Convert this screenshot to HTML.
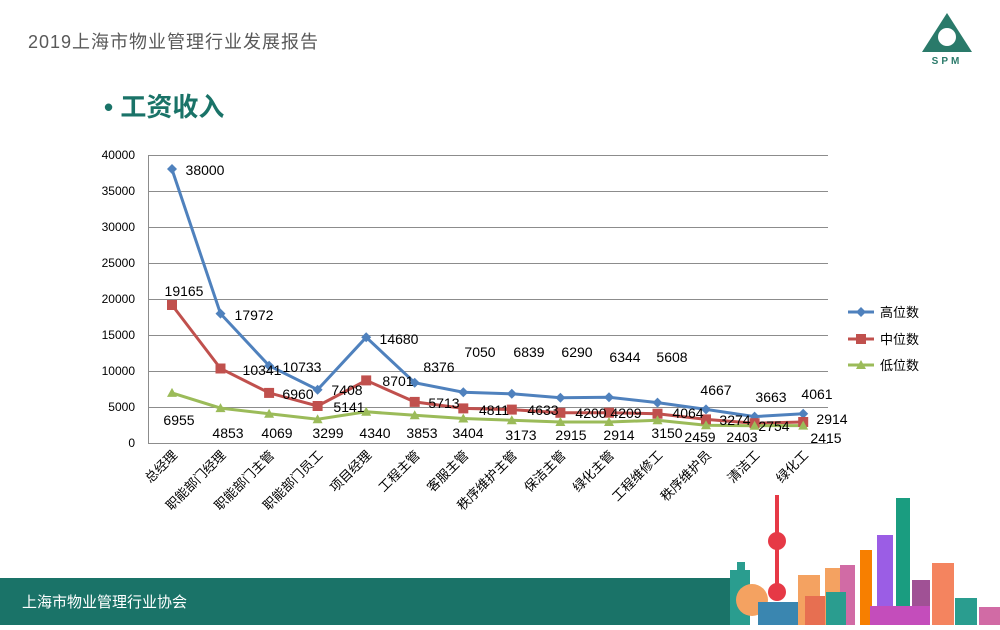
<!DOCTYPE html>
<html><head><meta charset="utf-8"><style>
body{margin:0;width:1000px;height:625px;overflow:hidden;background:#fff;font-family:"Liberation Sans","Noto Sans CJK SC",sans-serif}
</style></head><body>
<svg width="1000" height="625" xmlns="http://www.w3.org/2000/svg" font-family="Liberation Sans, Noto Sans CJK SC, sans-serif">
<text x="28" y="48" font-size="18" fill="#595959" letter-spacing="1">2019上海市物业管理行业发展报告</text>
<g fill="#2a7a6a">
<path d="M947 13 L972 52 L922 52 Z"/>
<circle cx="947" cy="37" r="9" fill="#fff"/>
</g>
<text x="947" y="64" font-size="10" font-weight="bold" fill="#2a7a6a" text-anchor="middle" letter-spacing="3">SPM</text>
<text x="104" y="116" font-size="26" font-weight="bold" fill="#1a7368">• 工资收入</text>
<g stroke="#8c8c8c" stroke-width="1">
<line x1="148" y1="155.5" x2="828" y2="155.5"/><line x1="148" y1="191.5" x2="828" y2="191.5"/>
<line x1="148" y1="227.5" x2="828" y2="227.5"/><line x1="148" y1="263.5" x2="828" y2="263.5"/>
<line x1="148" y1="299.5" x2="828" y2="299.5"/><line x1="148" y1="335.5" x2="828" y2="335.5"/>
<line x1="148" y1="371.5" x2="828" y2="371.5"/><line x1="148" y1="407.5" x2="828" y2="407.5"/>
<line x1="148" y1="443.5" x2="828" y2="443.5"/><line x1="148.5" y1="155" x2="148.5" y2="443"/>
</g>
<g font-size="12" fill="#000" text-anchor="end">
<text x="135" y="159">40000</text><text x="135" y="195">35000</text><text x="135" y="231">30000</text>
<text x="135" y="267">25000</text><text x="135" y="303">20000</text><text x="135" y="339">15000</text>
<text x="135" y="375">10000</text><text x="135" y="411">5000</text><text x="135" y="447">0</text>
</g>
<polyline fill="none" stroke="#4f81bd" stroke-width="3" points="172,169.4 220.5,313.6 269.1,365.7 317.6,389.7 366.2,337.3 414.7,382.7 463.3,392.2 511.8,393.8 560.4,397.7 609,397.3 657.5,402.6 706,409.4 754.6,416.6 803.2,413.8"/>
<polyline fill="none" stroke="#c0504d" stroke-width="3" points="172,305 220.5,368.5 269.1,392.9 317.6,406 366.2,380.4 414.7,401.9 463.3,408.4 511.8,409.6 560.4,412.8 609,412.7 657.5,413.7 706,419.4 754.6,423.2 803.2,422"/>
<polyline fill="none" stroke="#9bbb59" stroke-width="3" points="172,392.9 220.5,408.1 269.1,413.7 317.6,419.2 366.2,411.8 414.7,415.3 463.3,418.5 511.8,420.2 560.4,422 609,422 657.5,420.3 706,425.3 754.6,425.7 803.2,425.6"/>
<g fill="#4f81bd">
<path d="M172 164l5 5-5 5-5-5z"/><path d="M220.5 308.6l5 5-5 5-5-5z"/><path d="M269.1 360.7l5 5-5 5-5-5z"/><path d="M317.6 384.7l5 5-5 5-5-5z"/><path d="M366.2 332.3l5 5-5 5-5-5z"/><path d="M414.7 377.7l5 5-5 5-5-5z"/><path d="M463.3 387.2l5 5-5 5-5-5z"/><path d="M511.8 388.8l5 5-5 5-5-5z"/><path d="M560.4 392.7l5 5-5 5-5-5z"/><path d="M609 392.3l5 5-5 5-5-5z"/><path d="M657.5 397.6l5 5-5 5-5-5z"/><path d="M706 404.4l5 5-5 5-5-5z"/><path d="M754.6 411.6l5 5-5 5-5-5z"/><path d="M803.2 408.8l5 5-5 5-5-5z"/>
</g>
<g fill="#c0504d">
<rect x="167" y="300" width="10" height="10"/><rect x="215.5" y="363.5" width="10" height="10"/><rect x="264.1" y="387.9" width="10" height="10"/><rect x="312.6" y="401" width="10" height="10"/><rect x="361.2" y="375.4" width="10" height="10"/><rect x="409.7" y="396.9" width="10" height="10"/><rect x="458.3" y="403.4" width="10" height="10"/><rect x="506.8" y="404.6" width="10" height="10"/><rect x="555.4" y="407.8" width="10" height="10"/><rect x="604" y="407.7" width="10" height="10"/><rect x="652.5" y="408.7" width="10" height="10"/><rect x="701" y="414.4" width="10" height="10"/><rect x="749.6" y="418.2" width="10" height="10"/><rect x="798.2" y="417" width="10" height="10"/>
</g>
<g fill="#9bbb59">
<path d="M172 387.9l5 9h-10z"/><path d="M220.5 403.1l5 9h-10z"/><path d="M269.1 408.7l5 9h-10z"/><path d="M317.6 414.2l5 9h-10z"/><path d="M366.2 406.8l5 9h-10z"/><path d="M414.7 410.3l5 9h-10z"/><path d="M463.3 413.5l5 9h-10z"/><path d="M511.8 415.2l5 9h-10z"/><path d="M560.4 417l5 9h-10z"/><path d="M609 417l5 9h-10z"/><path d="M657.5 415.3l5 9h-10z"/><path d="M706 420.3l5 9h-10z"/><path d="M754.6 420.7l5 9h-10z"/><path d="M803.2 420.6l5 9h-10z"/>
</g>
<g font-size="14" fill="#000" text-anchor="middle">
<text x="205" y="175">38000</text><text x="254" y="320">17972</text><text x="302" y="372">10733</text><text x="347" y="395">7408</text><text x="399" y="344">14680</text><text x="439" y="372">8376</text><text x="480" y="357">7050</text><text x="529" y="357">6839</text><text x="577" y="357">6290</text><text x="625" y="362">6344</text><text x="672" y="362">5608</text><text x="716" y="395">4667</text><text x="771" y="402">3663</text><text x="817" y="399">4061</text>
<text x="184" y="296">19165</text><text x="262" y="375">10341</text><text x="298" y="399">6960</text><text x="349" y="412">5141</text><text x="398" y="386">8701</text><text x="444" y="408">5713</text><text x="494" y="415">4811</text><text x="543" y="415">4633</text><text x="591" y="418">4200</text><text x="626" y="418">4209</text><text x="688" y="418">4064</text><text x="735" y="425">3274</text><text x="774" y="431">2754</text><text x="832" y="424">2914</text>
<text x="179" y="425">6955</text><text x="228" y="438">4853</text><text x="277" y="438">4069</text><text x="328" y="438">3299</text><text x="375" y="438">4340</text><text x="422" y="438">3853</text><text x="468" y="438">3404</text><text x="521" y="440">3173</text><text x="571" y="440">2915</text><text x="619" y="440">2914</text><text x="667" y="438">3150</text><text x="700" y="442">2459</text><text x="742" y="442">2403</text><text x="826" y="443">2415</text>
</g>
<g font-size="13" fill="#000" text-anchor="end">
<text transform="translate(178,456) rotate(-45)">总经理</text>
<text transform="translate(226.5,456) rotate(-45)">职能部门经理</text>
<text transform="translate(275.1,456) rotate(-45)">职能部门主管</text>
<text transform="translate(323.6,456) rotate(-45)">职能部门员工</text>
<text transform="translate(372.2,456) rotate(-45)">项目经理</text>
<text transform="translate(420.7,456) rotate(-45)">工程主管</text>
<text transform="translate(469.3,456) rotate(-45)">客服主管</text>
<text transform="translate(517.8,456) rotate(-45)">秩序维护主管</text>
<text transform="translate(566.4,456) rotate(-45)">保洁主管</text>
<text transform="translate(615,456) rotate(-45)">绿化主管</text>
<text transform="translate(663.5,456) rotate(-45)">工程维修工</text>
<text transform="translate(712,456) rotate(-45)">秩序维护员</text>
<text transform="translate(760.6,456) rotate(-45)">清洁工</text>
<text transform="translate(809.2,456) rotate(-45)">绿化工</text>
</g>
<line x1="848" y1="312" x2="874" y2="312" stroke="#4f81bd" stroke-width="3"/><path d="M861 307l5 5-5 5-5-5z" fill="#4f81bd"/>
<line x1="848" y1="339" x2="874" y2="339" stroke="#c0504d" stroke-width="3"/><rect x="856" y="334" width="10" height="10" fill="#c0504d"/>
<line x1="848" y1="365" x2="874" y2="365" stroke="#9bbb59" stroke-width="3"/><path d="M861 360l5 9h-10z" fill="#9bbb59"/>
<g font-size="13" fill="#000"><text x="880" y="317">高位数</text><text x="880" y="344">中位数</text><text x="880" y="370">低位数</text></g>
<rect x="0" y="578" width="730" height="47" fill="#1a7368"/>
<text x="22" y="607" font-size="15" fill="#fff">上海市物业管理行业协会</text>
<rect x="730" y="578" width="270" height="47" fill="#fff"/>
<rect x="730" y="570" width="20" height="55" fill="#2a9d8f"/>
<rect x="737" y="562" width="8" height="10" fill="#2a9d8f"/>
<circle cx="752" cy="600" r="16" fill="#f4a261"/>
<rect x="758" y="602" width="50" height="23" fill="#3a86b0"/>
<rect x="775" y="495" width="4" height="100" fill="#e63946"/>
<circle cx="777" cy="541" r="9" fill="#e63946"/>
<circle cx="777" cy="592" r="9" fill="#e63946"/>
<rect x="798" y="575" width="22" height="50" fill="#f4a261"/>
<rect x="805" y="596" width="20" height="29" fill="#e76f51"/>
<rect x="825" y="568" width="15" height="57" fill="#f4a261"/>
<rect x="840" y="565" width="15" height="60" fill="#d16ba5"/>
<rect x="826" y="592" width="20" height="33" fill="#2a9d8f"/>
<rect x="860" y="550" width="12" height="75" fill="#f77f00"/>
<rect x="877" y="535" width="16" height="90" fill="#9b5de5"/>
<rect x="896" y="498" width="14" height="127" fill="#1a9d80"/>
<rect x="912" y="580" width="18" height="45" fill="#a05195"/>
<rect x="932" y="563" width="22" height="62" fill="#f4845f"/>
<rect x="955" y="598" width="22" height="27" fill="#2a9d8f"/>
<rect x="979" y="607" width="21" height="18" fill="#d16ba5"/>
<rect x="870" y="606" width="60" height="19" fill="#c44dbb"/>
</svg>
</body></html>
